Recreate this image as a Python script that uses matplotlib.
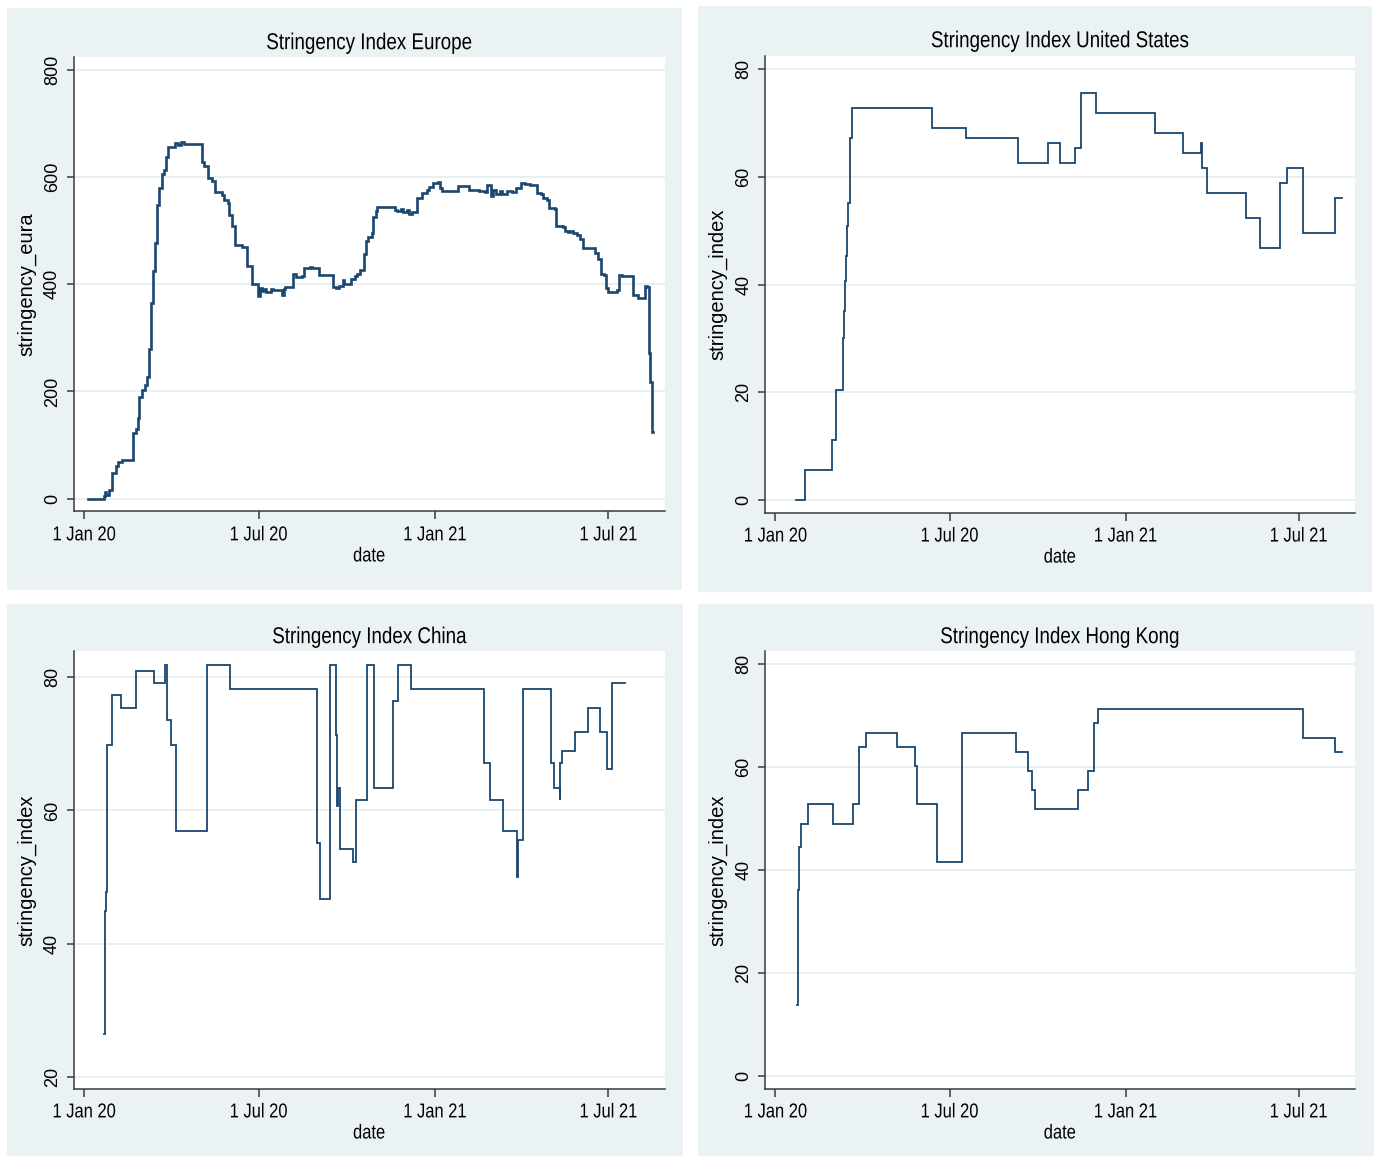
"""Stringency index panels (Europe, US, China, Hong Kong), Stata s2color look."""

import matplotlib
matplotlib.use("Agg")  # headless
import matplotlib.pyplot as plt
import pandas as pd
from matplotlib.patches import Rectangle
from matplotlib.patheffects import AbstractPathEffect
from matplotlib.transforms import Affine2D

NAVY = "#1a476f"
PANEL_BG = "#eaf2f3"
GRID = "#e2eef0"
AXIS = "#3a3a3a"

FONT = ["Liberation Sans", "DejaVu Sans"]

# ---------------------------------------------------------------------------
# Data (change points, drawn as steps)
# ---------------------------------------------------------------------------
europe_dates = [
    "2020-01-05", "2020-01-22", "2020-01-23", "2020-01-24", "2020-01-27", "2020-01-30",
    "2020-02-03", "2020-02-05", "2020-02-10", "2020-02-21", "2020-02-24", "2020-02-26",
    "2020-02-27", "2020-03-01", "2020-03-04", "2020-03-07", "2020-03-09", "2020-03-11",
    "2020-03-13", "2020-03-15", "2020-03-17", "2020-03-19", "2020-03-22", "2020-03-24",
    "2020-03-26", "2020-03-29", "2020-04-05", "2020-04-08", "2020-04-11", "2020-04-14",
    "2020-05-03", "2020-05-05", "2020-05-09", "2020-05-13", "2020-05-17", "2020-05-24",
    "2020-05-26", "2020-05-30", "2020-05-31", "2020-06-03", "2020-06-06", "2020-06-14",
    "2020-06-19", "2020-06-24", "2020-06-30", "2020-07-02", "2020-07-05", "2020-07-07",
    "2020-07-09", "2020-07-14", "2020-07-16", "2020-07-25", "2020-07-27", "2020-07-29",
    "2020-08-06", "2020-08-09", "2020-08-15", "2020-08-17", "2020-08-24", "2020-08-26",
    "2020-09-02", "2020-09-17", "2020-09-20", "2020-09-23", "2020-09-27", "2020-09-28",
    "2020-10-05", "2020-10-10", "2020-10-12", "2020-10-15", "2020-10-19", "2020-10-21",
    "2020-10-23", "2020-10-27", "2020-10-28", "2020-10-31", "2020-11-02", "2020-11-20",
    "2020-11-22", "2020-11-27", "2020-11-29", "2020-12-03", "2020-12-05", "2020-12-08",
    "2020-12-13", "2020-12-19", "2020-12-24", "2020-12-26", "2020-12-30", "2021-01-04",
    "2021-01-06", "2021-01-08", "2021-01-25", "2021-02-06", "2021-02-16", "2021-02-22",
    "2021-02-24", "2021-03-01", "2021-03-03", "2021-03-06", "2021-03-10", "2021-03-12",
    "2021-03-17", "2021-03-22", "2021-03-27", "2021-04-01", "2021-04-05", "2021-04-10",
    "2021-04-18", "2021-04-22", "2021-04-24", "2021-04-28", "2021-04-30", "2021-05-06",
    "2021-05-07", "2021-05-15", "2021-05-17", "2021-05-20", "2021-05-22", "2021-05-25",
    "2021-05-29", "2021-06-01", "2021-06-05", "2021-06-17", "2021-06-20", "2021-06-23",
    "2021-06-26", "2021-06-28", "2021-07-01", "2021-07-06", "2021-07-10", "2021-07-12",
    "2021-07-15", "2021-07-27", "2021-08-01", "2021-08-06", "2021-08-08", "2021-08-10",
    "2021-08-12", "2021-08-13", "2021-08-15", "2021-08-17",
]
europe_vals = [
    0, 5, 12, 6, 17, 48, 61, 69, 73, 123, 130, 150, 190, 203, 212, 227, 279, 365,
    424, 477, 548, 579, 606, 613, 638, 657, 664, 660, 666, 662, 629, 620, 598, 592,
    573, 567, 557, 551, 529, 508, 473, 470, 434, 400, 378, 394, 388, 392, 386, 391,
    389, 380, 392, 395, 420, 413, 415, 431, 433, 430, 417, 395, 393, 396, 408, 400,
    410, 415, 420, 427, 456, 480, 489, 496, 526, 536, 545, 539, 536, 540, 535, 539,
    531, 535, 561, 570, 577, 582, 589, 591, 579, 574, 584, 576, 574, 573, 585, 564,
    577, 568, 574, 568, 575, 572, 579, 590, 587, 586, 570, 568, 561, 558, 542, 540,
    508, 507, 500, 497, 499, 496, 492, 484, 467, 458, 448, 420, 418, 393, 386, 385,
    389, 417, 415, 380, 375, 374, 397, 395, 271, 218, 125, 125,
]

us_dates = [
    "2020-01-22", "2020-02-01", "2020-02-29", "2020-03-04", "2020-03-12", "2020-03-13",
    "2020-03-14", "2020-03-15", "2020-03-16", "2020-03-17", "2020-03-19", "2020-03-21",
    "2020-06-13", "2020-07-18", "2020-09-11", "2020-10-12", "2020-10-25", "2020-11-09",
    "2020-11-15", "2020-12-01", "2021-02-01", "2021-03-02", "2021-03-21", "2021-03-22",
    "2021-03-27", "2021-05-07", "2021-05-22", "2021-06-12", "2021-06-19", "2021-07-06",
    "2021-08-08", "2021-08-15",
]
us_vals = [
    0, 5.56, 11.11, 20.37, 30.09, 35.19, 40.74, 45.37, 50.93, 55.09, 67.13, 72.69,
    68.98, 67.13, 62.5, 66.2, 62.5, 65.28, 75.46, 71.76, 68.06, 64.35, 66.2, 61.57,
    56.94, 52.31, 46.76, 58.8, 61.57, 49.54, 56.02, 56.02,
]

china_dates = [
    "2020-01-22", "2020-01-23", "2020-01-24", "2020-01-25", "2020-01-30", "2020-02-08",
    "2020-02-24", "2020-03-14", "2020-03-25", "2020-03-27", "2020-04-01", "2020-04-06",
    "2020-05-08", "2020-06-01", "2020-08-31", "2020-09-03", "2020-09-14", "2020-09-20",
    "2020-09-21", "2020-09-22", "2020-09-24", "2020-10-08", "2020-10-11", "2020-10-22",
    "2020-10-29", "2020-11-18", "2020-11-23", "2020-12-07", "2021-02-21", "2021-02-27",
    "2021-03-13", "2021-03-28", "2021-03-29", "2021-04-03", "2021-05-02", "2021-05-05",
    "2021-05-11", "2021-05-12", "2021-05-14", "2021-05-27", "2021-06-10", "2021-06-22",
    "2021-06-30", "2021-07-05", "2021-07-18",
]
china_vals = [
    26.39, 44.91, 47.69, 69.91, 77.31, 75.46, 81.02, 79.17, 81.94, 73.61, 69.91, 56.94,
    81.94, 78.24, 55.09, 46.76, 81.94, 71.3, 60.65, 63.43, 54.17, 52.31, 61.57, 81.94,
    63.43, 76.39, 81.94, 78.24, 67.13, 61.57, 56.94, 50.0, 55.56, 78.24, 67.13, 63.43,
    61.57, 67.13, 69.0, 71.76, 75.46, 71.76, 66.2, 79.17, 79.17,
]

hk_dates = [
    "2020-01-24", "2020-01-25", "2020-01-26", "2020-01-28", "2020-02-04", "2020-03-01",
    "2020-03-22", "2020-03-28", "2020-04-05", "2020-05-07", "2020-05-26", "2020-05-28",
    "2020-06-18", "2020-07-14", "2020-09-09", "2020-09-21", "2020-09-25", "2020-09-28",
    "2020-11-12", "2020-11-23", "2020-11-29", "2020-12-03", "2021-07-06", "2021-08-08",
    "2021-08-15",
]
hk_vals = [
    13.89, 36.11, 44.44, 49.07, 52.78, 49.07, 52.78, 63.89, 66.67, 63.89, 60.19, 52.78,
    41.67, 66.67, 62.96, 59.26, 55.56, 51.85, 55.56, 59.26, 68.52, 71.3, 65.74, 62.96,
    62.96,
]

tick_dates = ["2020-01-01", "2020-07-01", "2021-01-01", "2021-07-01"]
tick_labels = ["1 Jan 20", "1 Jul 20", "1 Jan 21", "1 Jul 21"]


class Squeeze(AbstractPathEffect):
    """Condense text horizontally about its centre (no narrow font installed)."""

    def __init__(self, sx=0.82):
        super().__init__()
        self.sx = sx

    def draw_path(self, renderer, gc, tpath, affine, rgbFace=None):
        if len(tpath.vertices):
            xs = affine.transform(tpath.vertices)[:, 0]
            cx = (xs.min() + xs.max()) / 2
            affine = affine + Affine2D().translate(-cx, 0).scale(self.sx, 1).translate(cx, 0)
        renderer.draw_path(gc, tpath, affine, rgbFace)


NARROW_FX = [Squeeze(0.82)]


# ---------------------------------------------------------------------------
# Drawing
# ---------------------------------------------------------------------------
def draw_panel(fig, bg_rect, ax_rect, title, ylabel, dates, vals, yticks, ylim, lw):
    # zorder below the axes so the graph region sits behind the plot region
    fig.patches.append(Rectangle(bg_rect[:2], bg_rect[2], bg_rect[3],
                                 transform=fig.transFigure, facecolor=PANEL_BG,
                                 edgecolor="none", zorder=-5))
    ax = fig.add_axes(ax_rect)
    ax.set_facecolor("white")
    ax.plot(pd.to_datetime(dates), vals, drawstyle="steps-post",
            color=NAVY, lw=lw, solid_joinstyle="miter", zorder=3)

    start = pd.Timestamp("2020-01-01")
    ax.set_xlim(start - pd.Timedelta(days=11), start + pd.Timedelta(days=606))
    ax.set_xticks(pd.to_datetime(tick_dates))
    ax.set_xticklabels(tick_labels, family=FONT, fontsize=14.5, path_effects=NARROW_FX)
    ax.set_ylim(*ylim)
    ax.set_yticks(yticks)
    ax.set_yticklabels([str(v) for v in yticks], family=FONT, fontsize=13,
                       rotation=90, va="center")

    ax.grid(axis="y", color=GRID, lw=1.2, zorder=1)
    ax.set_axisbelow(True)
    for side in ("top", "right"):
        ax.spines[side].set_visible(False)
    for side in ("left", "bottom"):
        ax.spines[side].set_color(AXIS)
        ax.spines[side].set_linewidth(1.1)
    ax.tick_params(axis="x", direction="out", length=6, width=1.1, color=AXIS, pad=4)
    ax.tick_params(axis="y", direction="out", length=5, width=1.1, color=AXIS, pad=4)

    ax.set_title(title, family=FONT, fontsize=16.5, pad=6, path_effects=NARROW_FX)
    ax.set_xlabel("date", family=FONT, fontsize=14.5, labelpad=1.5, path_effects=NARROW_FX)
    ax.set_ylabel(ylabel, family=FONT, fontsize=14.5)
    ax.yaxis.set_label_coords(-0.063, 0.5)
    return ax


fig = plt.figure(figsize=(13.81, 11.59), dpi=100, facecolor="white")

draw_panel(fig, (0.0051, 0.4909, 0.4888, 0.5022), (0.0533, 0.5587, 0.4282, 0.3917),
           "Stringency Index Europe", "stringency_eura",
           europe_dates, europe_vals, [0, 200, 400, 600, 800], (-24, 823.5), 1.9)
draw_panel(fig, (0.5051, 0.4892, 0.4884, 0.5056), (0.5539, 0.5577, 0.4273, 0.3944),
           "Stringency Index United States", "stringency_index",
           us_dates, us_vals, [0, 20, 40, 60, 80], (-2.3, 82.5), 1.3)
draw_panel(fig, (0.0051, 0.0026, 0.4895, 0.4763), (0.0533, 0.0608, 0.4282, 0.3771),
           "Stringency Index China", "stringency_index",
           china_dates, china_vals, [20, 40, 60, 80], (18.2, 83.9), 1.3)
draw_panel(fig, (0.5051, 0.0026, 0.4900, 0.4763), (0.5539, 0.0608, 0.4273, 0.3771),
           "Stringency Index Hong Kong", "stringency_index",
           hk_dates, hk_vals, [0, 20, 40, 60, 80], (-2.4, 82.5), 1.3)

fig.savefig("out.png", dpi=100, facecolor="white")
plt.close(fig)
